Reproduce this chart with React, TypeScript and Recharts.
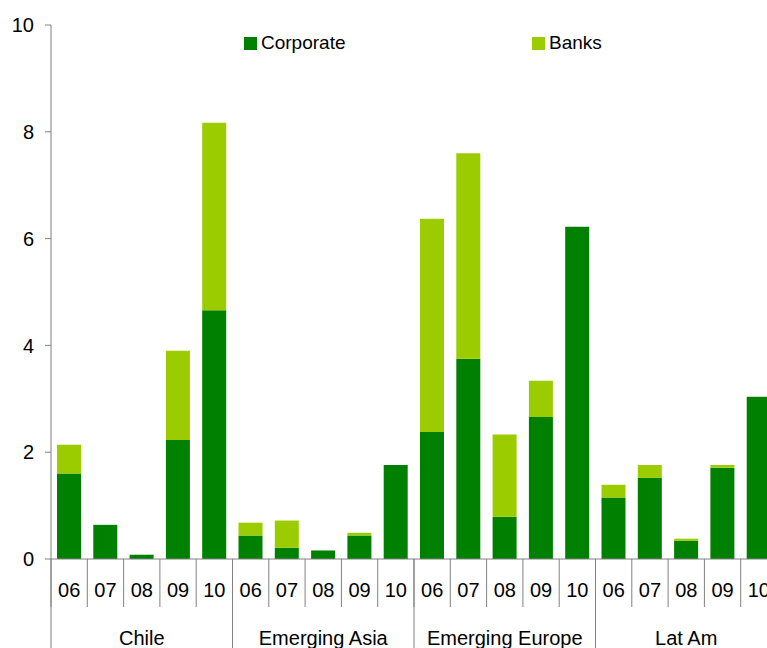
import { BarChart, Bar, XAxis, YAxis } from 'recharts';

const regions = ['Chile', 'Emerging Asia', 'Emerging Europe', 'Lat Am'];
const years = ['06', '07', '08', '09', '10'];

// values, per region, years 06..10
const corporate = [
  [1.6, 0.64, 0.08, 2.23, 4.66],
  [0.44, 0.21, 0.16, 0.44, 1.76],
  [2.38, 3.75, 0.79, 2.66, 6.22],
  [1.15, 1.52, 0.34, 1.71, 3.04],
];
const banks = [
  [0.54, 0, 0, 1.67, 3.51],
  [0.24, 0.51, 0, 0.05, 0],
  [3.99, 3.85, 1.54, 0.68, 0],
  [0.24, 0.24, 0.04, 0.05, 0],
];
const yTicks = [0, 2, 4, 6, 8, 10];

const data = regions.flatMap((region, r) =>
  years.map((year, i) => ({
    key: `${region}-${year}`,
    year,
    region,
    corporate: corporate[r][i],
    banks: banks[r][i],
  }))
);

const DARK = '#008000';
const LIGHT = '#9ACC00';
const AXIS = '#808080';
const FONT = '"Liberation Sans", Arial, sans-serif';

const CategoryTick = (props: any) => {
  const { x, y, payload, index } = props;
  const half = payload && payload.offset ? payload.offset : 18.15;
  const row = data[index] || data[0];
  const left = x - half;
  return (
    <g>
      <line x1={left} y1={y} x2={left} y2={y + 48} stroke={AXIS} strokeWidth={1} />
      {index % 5 === 0 && (
        <line x1={left} y1={y} x2={left} y2={y + 100} stroke={AXIS} strokeWidth={1} />
      )}
      <text x={x} y={y + 38} textAnchor="middle" fontSize={20} fill="#000" fontFamily={FONT}>
        {row.year}
      </text>
      {index % 5 === 2 && (
        <text x={x} y={y + 86} textAnchor="middle" fontSize={20} fill="#000" fontFamily={FONT}>
          {row.region}
        </text>
      )}
    </g>
  );
};

const legendItem = (color: string, label: string, left: number) => (
  <div style={{ position: 'absolute', left, top: 0, display: 'flex', alignItems: 'center', lineHeight: '20px' }}>
    <span style={{ width: 13, height: 13, background: color, display: 'inline-block', marginRight: 4 }} />
    {label}
  </div>
);

export default function App() {
  return (
    <div
      style={{
        position: 'absolute',
        left: 0,
        top: 0,
        width: 767,
        height: 648,
        overflow: 'hidden',
        background: '#fff',
      }}
    >
      <BarChart
        width={780}
        height={648}
        data={data}
        margin={{ top: 25, right: 3, left: 0, bottom: 0 }}
      >
        <XAxis
          dataKey="key"
          interval={0}
          height={89}
          tickSize={0}
          tickMargin={0}
          tickLine={false}
          stroke={AXIS}
          tick={<CategoryTick />}
        />
        <YAxis
          domain={[0, 10]}
          ticks={yTicks}
          width={51}
          tickSize={6}
          tickMargin={11}
          stroke={AXIS}
          tick={{ fontSize: 20, fill: '#000', fontFamily: FONT }}
          allowDataOverflow
        />
        <Bar dataKey="corporate" stackId="a" fill={DARK} barSize={24} isAnimationActive={false} />
        <Bar dataKey="banks" stackId="a" fill={LIGHT} barSize={24} isAnimationActive={false} />
      </BarChart>
      <div
        style={{
          position: 'absolute',
          top: 33,
          left: 244,
          width: 400,
          height: 20,
          fontFamily: FONT,
          fontSize: 19,
          color: '#000',
        }}
      >
        {legendItem(DARK, 'Corporate', 0)}
        {legendItem(LIGHT, 'Banks', 288)}
      </div>
    </div>
  );
}
